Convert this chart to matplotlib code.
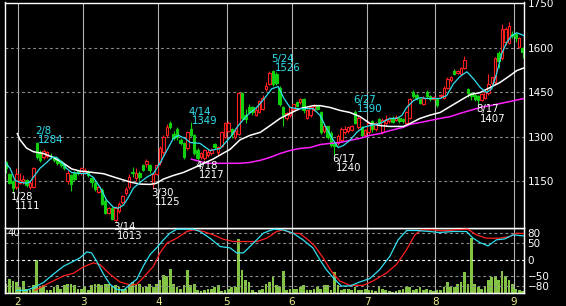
import numpy as np
import pandas as pd
import matplotlib
matplotlib.use('Agg')
import matplotlib.pyplot as plt
from matplotlib.patches import Rectangle

# trading days (Tokyo, 2005)
holidays = ['2005-02-11', '2005-03-21', '2005-04-29', '2005-05-03',
            '2005-05-04', '2005-05-05', '2005-07-18']
dates = pd.bdate_range('2005-01-26', '2005-09-05')
dates = dates[~dates.isin(pd.to_datetime(holidays))]

opens = [1214, 1174, 1150, 1130, 1145, 1150, 1154, 1130, 1132, 1278,
         1248, 1231, 1235, 1236, 1231, 1224, 1218, 1204, 1150, 1170,
         1180, 1185, 1177, 1180, 1182, 1160, 1145, 1115, 1120, 1085,
         1045, 1060, 1020, 1050, 1080, 1110, 1130, 1182, 1160, 1180,
         1205, 1208, 1205, 1140, 1175, 1215, 1248, 1305, 1345, 1311,
         1328, 1288, 1278, 1261, 1328, 1305, 1255, 1232, 1230, 1238,
         1245, 1275, 1250, 1270, 1300, 1320, 1325, 1300, 1310, 1446,
         1372, 1402, 1400, 1375, 1385, 1395, 1460, 1479, 1520, 1510,
         1466, 1400, 1362, 1372, 1395, 1418, 1416, 1429, 1365, 1372,
         1392, 1405, 1382, 1318, 1335, 1312, 1278, 1278, 1288, 1315,
         1318, 1322, 1385, 1332, 1332, 1305, 1315, 1352, 1325, 1360,
         1315, 1348, 1352, 1365, 1358, 1362, 1360, 1348, 1365, 1452,
         1442, 1428, 1412, 1452, 1438, 1428, 1428, 1438, 1432, 1466,
         1490, 1523, 1515, 1513, 1533, 1462, 1449, 1440, 1436, 1425,
         1432, 1446, 1480, 1483, 1583, 1566, 1620, 1617, 1647, 1647,
         1603, 1600]
highs = [1218, 1180, 1155, 1194, 1180, 1170, 1158, 1150, 1197, 1284,
         1255, 1258, 1254, 1245, 1236, 1228, 1222, 1208, 1190, 1175,
         1185, 1190, 1198, 1195, 1190, 1165, 1150, 1135, 1128, 1090,
         1065, 1065, 1068, 1080, 1105, 1130, 1175, 1200, 1195, 1185,
         1210, 1225, 1210, 1180, 1210, 1268, 1305, 1342, 1352, 1318,
         1332, 1295, 1282, 1320, 1349, 1310, 1262, 1250, 1260, 1258,
         1262, 1280, 1270, 1320, 1350, 1352, 1330, 1330, 1452, 1452,
         1395, 1410, 1405, 1400, 1425, 1440, 1485, 1520, 1526, 1518,
         1470, 1405, 1385, 1402, 1412, 1420, 1432, 1432, 1392, 1402,
         1410, 1408, 1388, 1340, 1338, 1318, 1282, 1308, 1332, 1335,
         1338, 1340, 1390, 1370, 1338, 1328, 1350, 1356, 1350, 1365,
         1362, 1375, 1368, 1370, 1372, 1366, 1364, 1386, 1432, 1459,
         1446, 1432, 1436, 1459, 1442, 1438, 1432, 1445, 1470, 1500,
         1505, 1527, 1526, 1535, 1573, 1466, 1452, 1444, 1440, 1448,
         1456, 1513, 1503, 1570, 1590, 1680, 1670, 1685, 1655, 1652,
         1636, 1602]
lows = [1177, 1140, 1111, 1125, 1140, 1140, 1130, 1125, 1128, 1225,
        1215, 1225, 1230, 1225, 1215, 1205, 1198, 1188, 1140, 1118,
        1150, 1172, 1172, 1175, 1165, 1130, 1118, 1110, 1070, 1040,
        1040, 1020, 1013, 1045, 1075, 1105, 1125, 1165, 1150, 1155,
        1185, 1200, 1180, 1125, 1170, 1205, 1240, 1300, 1325, 1288,
        1290, 1272, 1225, 1255, 1300, 1240, 1217, 1225, 1222, 1232,
        1240, 1258, 1240, 1265, 1295, 1315, 1295, 1292, 1305, 1355,
        1345, 1378, 1375, 1370, 1380, 1390, 1455, 1475, 1470, 1475,
        1405, 1338, 1358, 1368, 1390, 1400, 1410, 1380, 1360, 1368,
        1388, 1390, 1310, 1312, 1292, 1265, 1240, 1272, 1282, 1310,
        1312, 1318, 1342, 1328, 1300, 1300, 1310, 1315, 1320, 1340,
        1310, 1340, 1348, 1345, 1352, 1348, 1348, 1344, 1360, 1430,
        1425, 1410, 1408, 1432, 1422, 1424, 1400, 1432, 1428, 1462,
        1485, 1508, 1510, 1508, 1528, 1435, 1425, 1420, 1407, 1420,
        1428, 1442, 1476, 1478, 1530, 1560, 1610, 1612, 1632, 1620,
        1598, 1566]
closes = [1194, 1144, 1127, 1175, 1154, 1157, 1137, 1144, 1194, 1231,
          1221, 1254, 1248, 1234, 1221, 1211, 1204, 1194, 1180, 1140,
          1157, 1177, 1194, 1190, 1172, 1147, 1125, 1130, 1075, 1045,
          1060, 1025, 1062, 1075, 1100, 1125, 1165, 1177, 1180, 1165,
          1190, 1218, 1190, 1175, 1205, 1262, 1298, 1332, 1332, 1295,
          1298, 1278, 1231, 1315, 1305, 1245, 1228, 1245, 1255, 1250,
          1255, 1265, 1265, 1315, 1345, 1345, 1310, 1320, 1446, 1362,
          1360, 1385, 1385, 1392, 1420, 1432, 1472, 1516, 1479, 1482,
          1412, 1372, 1379, 1399, 1410, 1405, 1429, 1389, 1389, 1399,
          1405, 1395, 1315, 1335, 1298, 1272, 1270, 1302, 1328, 1328,
          1332, 1335, 1348, 1365, 1305, 1322, 1345, 1328, 1345, 1345,
          1358, 1360, 1362, 1350, 1368, 1352, 1352, 1382, 1428, 1436,
          1432, 1415, 1432, 1438, 1428, 1434, 1408, 1440, 1466, 1496,
          1500, 1513, 1522, 1530, 1560, 1449, 1436, 1428, 1425, 1445,
          1452, 1479, 1500, 1566, 1556, 1664, 1664, 1674, 1640, 1634,
          1633, 1587]
volumes = [6.1, 9.4, 7.7, 7.2, 3.9, 7.7, 2.8, 1.7, 5.0, 21.4,
           3.9, 5.0, 1.7, 1.7, 3.9, 5.0, 2.8, 5.0, 6.1, 6.1,
           5.0, 2.8, 2.8, 4.4, 1.7, 5.0, 6.1, 6.1, 5.0, 6.1,
           6.1, 3.9, 5.0, 3.9, 2.8, 2.8, 5.0, 7.2, 5.0, 6.1,
           3.9, 3.9, 6.1, 3.9, 6.1, 8.3, 11.6, 10.9, 16.0, 6.1,
           3.9, 2.8, 5.0, 14.9, 5.0, 6.1, 1.7, 1.3, 1.7, 2.8,
           2.8, 3.9, 5.0, 1.3, 1.7, 2.8, 3.9, 3.9, 35.2, 14.9,
           8.3, 7.2, 1.7, 0.7, 1.7, 2.8, 6.1, 7.2, 10.5, 5.0,
           3.9, 14.4, 1.7, 2.8, 2.8, 2.8, 3.9, 5.0, 1.7, 1.7,
           2.8, 3.9, 2.8, 5.0, 5.0, 1.7, 13.8, 5.0, 1.7, 2.8,
           2.8, 2.2, 3.9, 1.7, 1.7, 2.8, 1.7, 1.7, 1.3, 3.9,
           2.8, 1.7, 1.3, 0.7, 1.3, 1.7, 2.8, 3.9, 3.9, 1.7,
           2.8, 3.9, 1.7, 2.8, 1.7, 1.3, 1.7, 1.7, 3.9, 7.2,
           3.9, 3.9, 6.1, 7.2, 13.8, 6.1, 36.3, 6.1, 3.9, 2.8,
           3.9, 8.3, 10.5, 10.9, 8.3, 14.4, 10.9, 8.3, 6.1, 2.8,
           1.7, 1.3]

# moving averages (day index, price)
ma_short_x = [0, 1.2, 2.6, 4.1, 6.0, 7.0, 8.0, 9.9, 11.9, 13.4, 14.8, 16.3, 17.7, 19.2,
              21.6, 23.6, 25.5, 27.5, 29.4, 31.4, 32.8, 34.3, 35.8, 37.2, 39.2, 41.1,
              43.1, 45, 47, 48.9, 50.4, 52.3, 53.8, 56.7, 59.6, 62.6, 65.5, 67.9, 70.4,
              73.3, 75.7, 77.7, 79.6, 81.1, 83, 85, 86.9, 89.8, 91.8, 93.7, 95.7, 97.1,
              98.6, 100.5, 102.5, 104.4, 106.4, 109.3, 112.2, 114.2, 115.7, 117.1, 119.1,
              121, 123, 124.9, 126.9, 128.8, 130.8, 132.7, 134.7, 136.6, 138.6, 140.5,
              142, 143.4, 144.9, 146.3, 147.8, 149.3, 150.7, 151.4]
ma_short_y = [1211, 1194, 1154, 1147, 1144, 1148, 1164, 1194, 1214, 1231, 1231, 1214, 1194, 1180,
              1177, 1177, 1164, 1130, 1087, 1063, 1060, 1070, 1097, 1127, 1147, 1164,
              1177, 1211, 1254, 1295, 1305, 1295, 1281, 1278, 1254, 1261, 1298, 1338, 1372,
              1399, 1432, 1462, 1469, 1432, 1399, 1395, 1395, 1395, 1372, 1328, 1288, 1264,
              1271, 1288, 1315, 1332, 1338, 1345, 1362, 1362, 1372, 1399, 1422,
              1432, 1429, 1429, 1429, 1439, 1479, 1503, 1519, 1496, 1466, 1449,
              1462, 1513, 1580, 1617, 1640, 1650, 1644, 1640]
ma_mid_x = [3.3, 4.1, 6, 8, 10.9, 13.8, 16.8, 19.2, 21.6, 25.5, 28.5, 32.3, 36.3, 39.2, 42.1,
            44, 46, 48.9, 51.8, 54.8, 57.6, 60.5, 63.5, 65.5, 68.4, 71.3, 74.3, 77.2, 80.1,
            83, 85.9, 89.8, 91.8, 94.7, 97.6, 100.5, 103.5, 106.4, 109.3, 112.2, 116.1,
            118.1, 121, 123.9, 126.9, 129.8, 132.7, 135.7, 138.6, 141.5, 144.4, 147.3,
            149.3, 151.4]
ma_mid_y = [1311, 1290, 1262, 1250, 1244, 1231, 1211, 1192, 1185, 1180, 1176, 1162, 1148, 1141, 1140,
            1144, 1158, 1170, 1180, 1195, 1210, 1225, 1245, 1258, 1290, 1305, 1315, 1338, 1362,
            1379, 1395, 1405, 1405, 1399, 1389, 1382, 1368, 1345, 1338, 1335, 1335,
            1345, 1362, 1373, 1382, 1402, 1422, 1442, 1449, 1466, 1483, 1506,
            1523, 1532]
ma_long_x = [54.2, 58.7, 64.5, 68.4, 71.3, 74.3, 77.2, 80.1, 83, 85.9, 88.9, 91.8, 94.7, 97.6,
             100.5, 103.5, 106.4, 109.3, 112.2, 116.1, 118.1, 121, 123.9, 126.9, 129.8,
             132.7, 135.7, 138.6, 141.5, 144.4, 147.3, 151.4]
ma_long_y = [1225, 1211, 1211, 1211, 1214, 1221, 1231, 1244, 1254, 1261, 1264, 1274, 1278, 1281,
             1288, 1295, 1305, 1311, 1321, 1332, 1342, 1348, 1355, 1362, 1368,
             1379, 1389, 1399, 1405, 1412, 1419, 1429]

# oscillator (day index, value)
osc_k_x = [3.1, 6.0, 8.0, 10.9, 13.8, 16.8, 19.7, 21.6, 23.6, 25.0, 26.5, 28.5, 30.4, 32.3,
           34.3, 36.3, 38.2, 40.1, 42.1, 44.0, 46.0, 47.9, 49.9, 54.8, 56.7, 59.6, 62.6,
           65.5, 67.4, 69.4, 72.3, 75.2, 78.2, 81, 83.9, 86.8, 89.7, 91.7, 93.6, 95.6, 98,
           100.5, 103.4, 106.3, 109.2, 112.2, 114.6, 117.1, 120, 123.9, 126.7, 130.7,
           134.6, 136.5, 138.5, 140.9, 143.3, 145.8, 148.2, 151.2]
osc_k_y = [-92, -92, -84, -69, -44, -20, -5, 5, 23, 20, -5, -44, -74, -89,
           -92, -74, -59, -20, 15, 35, 59, 79, 91, 91, 84, 64, 39,
           35, 20, 20, 49, 79, 91, 89, 79, 59, 35, 0, -30, -54, -79,
           -79, -67, -57, -30, 10, 59, 87, 87, 84, 81, 84,
           84, 64, 51, 41, 59, 62, 74, 71]
osc_d_x = [8.5, 10.9, 13.8, 16.8, 19.7, 22.6, 25.5, 27.5, 30.4, 33.3, 36.3, 38.2, 40.1, 43.1,
           45, 47, 49.9, 52.8, 54.8, 57.7, 60.6, 63.5, 66.5, 70.3, 73.3, 76.2, 79.1, 81,
           83.5, 85.9, 88.3, 90.2, 92.7, 95.1, 97.5, 100.5, 104.4, 107.3, 111.2, 114.1,
           117.1, 119.5, 121.4, 124.8, 127.7, 131.6, 135, 137.5, 140.4, 144.3, 147.2,
           149.2, 151.2]
osc_d_y = [-92, -79, -64, -49, -41, -22, -10, -15, -44, -67, -76, -74, -54, -20,
           20, 49, 64, 84, 89, 84, 74, 61, 54, 54, 54, 64, 84, 89,
           79, 78, 59, 41, 5, -35, -64, -77, -77, -64, -40, -15,
           30, 74, 89, 89, 86, 89, 91, 74, 64, 64, 69,
           79, 78]

# marked highs and lows
mark_dates = ['2005-01-28', '2005-02-08', '2005-03-14', '2005-03-30', '2005-04-14',
              '2005-04-18', '2005-05-24', '2005-06-17', '2005-06-27', '2005-08-17']
mark_values = [1111, 1284, 1013, 1125, 1349, 1217, 1526, 1240, 1390, 1407]
mark_kinds = ['low', 'high', 'low', 'low', 'high', 'low', 'high', 'low', 'high', 'low']

price_ticks = [1150, 1300, 1450, 1600, 1750]
osc_ticks = [-80, -50, 0, 50, 80]

RED = '#ff2020'
GREEN = '#10d010'
CYAN = '#30e0f0'
MAGENTA = '#ff20ff'
VOL = '#84c444'
GRID = '#8c8c8c'

x = np.arange(len(dates))
months = dates.month.values
month_pos = [i - 0.5 for i in range(1, len(dates)) if months[i] != months[i - 1]]
month_lbl = [str(months[int(p + 0.5)]) for p in month_pos]

fig = plt.figure(figsize=(5.66, 3.06), dpi=100, facecolor='black')
W, H = 566, 306
ax2 = fig.add_axes([5 / W, 1 - 293 / H, 519 / W, 65.5 / H])
ax = fig.add_axes([5 / W, 1 - 227.5 / H, 519 / W, 225 / H])

for a in (ax, ax2):
    a.set_facecolor('black')
    a.set_xlim(-0.3, 151.4)
    for s in a.spines.values():
        s.set_color('white')
        s.set_linewidth(1)
    for p in month_pos:
        a.axvline(p, color='#b4b4b4', lw=0.8, zorder=1)

# main price panel
ax.set_ylim(995, 1752)
for t in price_ticks[:-1]:
    ax.axhline(t, color=GRID, lw=0.8, ls=(0, (2.5, 2.5)), zorder=1)

bw = 0.72
for xi, o, h, l, c in zip(x, opens, highs, lows, closes):
    up = c >= o
    col = RED if up else GREEN
    bot, top = min(o, c), max(o, c)
    if top - bot < 2:
        top = bot + 2
    ax.vlines(xi, l, bot, color=col, lw=0.8, zorder=2)
    ax.vlines(xi, top, h, color=col, lw=0.8, zorder=2)
    ax.add_patch(Rectangle((xi - bw / 2, bot), bw, top - bot,
                           facecolor='black' if up else col, edgecolor=col,
                           lw=0.8, zorder=2))

ax.plot(ma_long_x, ma_long_y, color=MAGENTA, lw=1.1, zorder=3)
ax.plot(ma_mid_x, ma_mid_y, color='white', lw=1.1, zorder=3)
ax.plot(ma_short_x, ma_short_y, color=CYAN, lw=0.9, zorder=4)

for d, v, k in zip(mark_dates, mark_values, mark_kinds):
    i = dates.get_loc(pd.Timestamp(d))
    ts = pd.Timestamp(d)
    col = CYAN if k == 'high' else 'white'
    dy1, dy2 = (7.6, 1.1) if k == 'high' else (-3.2, -9.7)
    ax.annotate(f'{ts.month}/{ts.day}', xy=(i, v), xytext=(-1.4, dy1),
                textcoords='offset points', ha='left', va='center',
                color=col, fontsize=7.3, annotation_clip=False, zorder=6)
    ax.annotate(str(v), xy=(i, v), xytext=(1.1, dy2),
                textcoords='offset points', ha='left', va='center',
                color=col, fontsize=7.3, annotation_clip=False, zorder=6)

ax.set_xticks([])
ax.yaxis.tick_right()
ax.set_yticks(price_ticks)
ax.tick_params(axis='y', length=0, pad=2.5, labelcolor='white', labelsize=7.5)

# lower panel: volume + oscillator
ax2.set_ylim(0, 43)
ax2.bar(x, volumes, width=0.8, color=VOL, zorder=2)
ax2.set_yticks([])
ax2.set_xticks(month_pos)
ax2.set_xticklabels(month_lbl)
ax2.tick_params(axis='x', length=0, pad=3, labelcolor='#f0ec8c', labelsize=7.5)

axs = ax2.twinx()
axs.set_ylim(-100, 96)
axs.patch.set_visible(False)
for s in axs.spines.values():
    s.set_color('white')
for t in osc_ticks:
    axs.axhline(t, color='white' if t == 0 else GRID, lw=0.8, ls=(0, (2.5, 2.5)), zorder=1)
axs.plot(osc_d_x, osc_d_y, color=RED, lw=0.9, zorder=3)
axs.plot(osc_k_x, osc_k_y, color=CYAN, lw=0.9, zorder=4)
axs.set_yticks(osc_ticks)
axs.tick_params(axis='y', length=0, pad=2.5, labelcolor='white', labelsize=7.5)

fig.text(8 / W, 1 - 233 / H, '40', color='white', fontsize=7.3, va='center', ha='left')

fig.savefig('out.png', dpi=100, facecolor='black')
